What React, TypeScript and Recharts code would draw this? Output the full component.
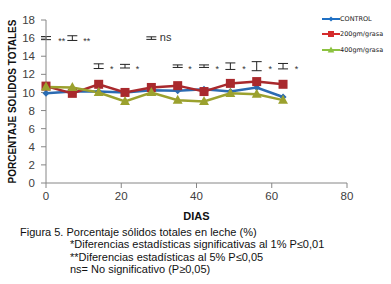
import {
  ComposedChart,
  Line,
  Scatter,
  ErrorBar,
  XAxis,
  YAxis,
  Legend,
} from "recharts";

// days of sampling
const days = [0, 7, 14, 21, 28, 35, 42, 49, 56, 63];
// % total solids per treatment
const control = [9.9, 10.1, 10.1, 10.0, 10.25, 10.2, 10.35, 10.1, 10.55, 9.5];
const g200 = [10.7, 9.9, 10.9, 10.0, 10.55, 10.75, 10.1, 11.0, 11.2, 10.9];
const g400 = [10.6, 10.55, 10.0, 9.0, 10.0, 9.15, 9.0, 9.9, 9.8, 9.15];

// significance bars drawn above the series
const sigDays = [0, 7, 28, 14, 21, 35, 42, 49, 56, 63];
const sigLevels = [16, 16, 16, 12.9, 12.9, 12.9, 12.9, 12.9, 12.9, 12.9];
const sigErr = [0.17, 0.26, 0.14, 0.26, 0.2, 0.14, 0.14, 0.36, 0.5, 0.3];

// significance marks next to the bars
const markDays = [4.2, 10.8, 31.8, 17.5, 24.3, 38.3, 45.5, 52.6, 59.6, 66.6];
const markLevels = [16, 16, 16, 12.9, 12.9, 12.9, 12.9, 12.9, 12.9, 12.9];
const markText = ["**", "**", "ns", "*", "*", "*", "*", "*", "*", "*"];

const xTicks = [0, 20, 40, 60, 80];
const yTicks = [0, 2, 4, 6, 8, 10, 12, 14, 16, 18];

const captionLines = [
  "Figura 5. Porcentaje sólidos totales en leche (%)",
  "*Diferencias estadísticas significativas al 1% P≤0,01",
  "**Diferencias estadísticas al 5% P≤0,05",
  "ns= No significativo (P≥0,05)",
];

const data = days.map((d, i) => ({
  day: d,
  control: control[i],
  g200: g200[i],
  g400: g400[i],
}));
const sigData = sigDays.map((d, i) => ({ day: d, y: sigLevels[i], err: sigErr[i] }));
const markData = markDays.map((d, i) => ({ day: d, y: markLevels[i], text: markText[i] }));

const BLUE = "#2B6BB2";
const RED = "#A9292D";
const GREEN = "#9BA12E";

const series = [
  { key: "control", name: "CONTROL", color: BLUE, legendColor: "#1F70C4", shape: "diamond" },
  { key: "g200", name: "200gm/grasa", color: RED, legendColor: "#D42B2B", shape: "square" },
  { key: "g400", name: "400gm/grasa", color: GREEN, legendColor: "#8CC240", shape: "triangle" },
];

const marker = (shape: string, cx: number, cy: number, color: string, s: number, key?: string) => {
  if (shape === "diamond")
    return <path key={key} d={`M${cx},${cy - s}L${cx + s},${cy}L${cx},${cy + s}L${cx - s},${cy}Z`} fill={color} />;
  if (shape === "square")
    return <rect key={key} x={cx - s} y={cy - s} width={s * 2} height={s * 2} fill={color} />;
  return (
    <path
      key={key}
      d={`M${cx},${cy - s * 1.2}L${cx + s * 1.1},${cy + s * 0.8}L${cx - s * 1.1},${cy + s * 0.8}Z`}
      fill={color}
    />
  );
};

const LegendBox = () => (
  <div style={{ fontFamily: "DejaVu Sans, sans-serif", fontSize: 6.5, color: "#222" }}>
    {series.map((s) => (
      <div key={s.key} style={{ display: "flex", alignItems: "center", height: 15.5 }}>
        <svg width={18} height={8}>
          <line x1={0} y1={4} x2={18} y2={4} stroke={s.legendColor} strokeWidth={2} />
          {marker(s.shape, 9, 4, s.legendColor, s.shape === "diamond" ? 2.5 : 3)}
        </svg>
        <span>{s.name}</span>
      </div>
    ))}
  </div>
);

const MarkText = (props: any) => {
  const { cx, cy, payload } = props;
  const isStar = payload.text.indexOf("*") >= 0;
  const fs = isStar ? 9 : 11;
  return (
    <text
      x={cx}
      y={cy + (isStar ? 0.6 * fs : 0.3 * fs)}
      textAnchor="middle"
      fontSize={fs}
      fill="#333"
    >
      {payload.text}
    </text>
  );
};

export default function App() {
  return (
    <div
      style={{
        position: "absolute",
        left: 0,
        top: 0,
        width: 391,
        height: 284,
        background: "#fff",
        fontFamily: "Liberation Sans, Arial, sans-serif",
      }}
    >
      <ComposedChart
        width={391}
        height={225}
        data={data}
        margin={{ top: 20, right: 44, left: 0, bottom: 0 }}
      >
        <XAxis
          dataKey="day"
          type="number"
          domain={[0, 80]}
          ticks={xTicks}
          stroke="#868686"
          tickSize={5}
          tickMargin={4}
          height={42}
          tick={{ fill: "#404040", fontSize: 11.5 }}
          label={{
            value: "DIAS",
            position: "insideBottom",
            offset: 5,
            style: { fontWeight: 700, fontSize: 11, fill: "#111" },
          }}
        />
        <YAxis
          type="number"
          domain={[0, 18]}
          ticks={yTicks}
          width={46}
          stroke="#868686"
          tickSize={5}
          tickMargin={6}
          tick={{ fill: "#404040", fontSize: 11.5 }}
          label={{
            value: "PORCENTAJE  SOLIDOS TOTALES",
            angle: -90,
            position: "center",
            dx: -11,
            style: { fontWeight: 700, fontSize: 10, fill: "#111" },
          }}
        />
        <Legend
          layout="vertical"
          align="center"
          verticalAlign="middle"
          content={<LegendBox />}
          wrapperStyle={{ top: 11, left: 322, width: 70 }}
        />
        {series.map((s) => (
          <Line
            key={s.key}
            dataKey={s.key}
            name={s.name}
            stroke={s.color}
            strokeWidth={2.5}
            isAnimationActive={false}
            dot={(p: any) =>
              marker(
                s.shape,
                p.cx,
                p.cy,
                s.color,
                s.shape === "diamond" ? 3.5 : 4.5,
                `${s.key}-${p.index}`
              )
            }
            activeDot={false}
          />
        ))}
        <Scatter
          data={sigData}
          dataKey="y"
          legendType="none"
          isAnimationActive={false}
          shape={() => <g />}
        >
          <ErrorBar dataKey="err" direction="y" width={5} stroke="#222" strokeWidth={1} />
        </Scatter>
        <Scatter
          data={markData}
          dataKey="y"
          legendType="none"
          isAnimationActive={false}
          shape={MarkText}
        />
      </ComposedChart>
      <div style={{ position: "absolute", left: 20, top: 226, fontSize: 11, lineHeight: "12.4px", color: "#111" }}>
        {captionLines.map((t, i) => (
          <div key={i} style={{ paddingLeft: i === 0 ? 0 : 50, whiteSpace: "nowrap" }}>
            {t}
          </div>
        ))}
      </div>
    </div>
  );
}
